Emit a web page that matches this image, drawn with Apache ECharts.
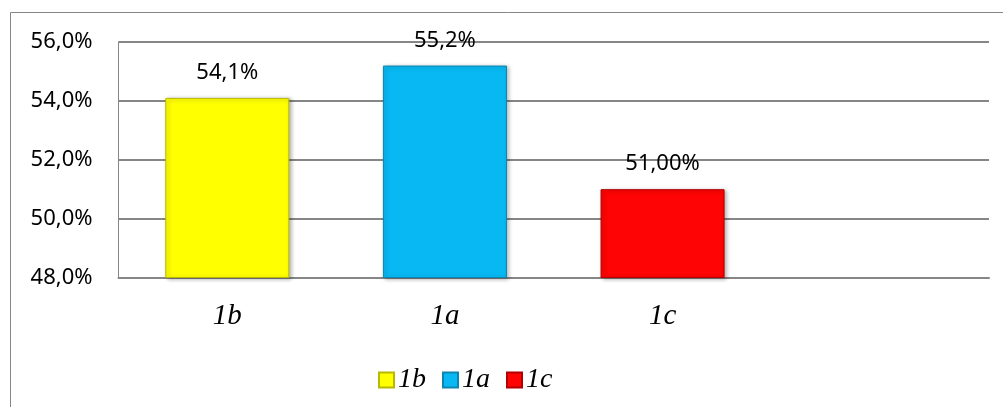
<!DOCTYPE html>
<html>
<head>
<meta charset="utf-8">
<script src="https://cdn.jsdelivr.net/npm/echarts@6/dist/echarts.min.js"></script>
<style>
  html, body { margin: 0; padding: 0; background: #fff; }
  #chart { width: 1003px; height: 407px; }
</style>
</head>
<body>
<div id="chart"></div>
<script>
// data
const categories = ['1b', '1a', '1c', ''];
const seriesNames = ['1b', '1a', '1c'];
const values = [54.1, 55.2, 51.0];
const labelTexts = ['54,1%', '55,2%', '51,00%'];
const yTicks = { min: 48, max: 56, step: 2 };

const fills = ['#FFFF00', '#08B8F2', '#FE0404'];
const edges = ['#B8B800', '#0A86B0', '#B00000'];

const chart = echarts.init(document.getElementById('chart'));

// one series per category so the legend gets its own coloured entry
const series = seriesNames.map(function (name, i) {
    const data = categories.map(function (c, j) { return j === i ? values[i] : '-'; });
    return {
        name: name,
        type: 'bar',
        data: data,
        barWidth: '57%',
        barGap: '-100%',
        itemStyle: {
            color: fills[i],
            borderColor: edges[i],
            borderWidth: 1,
            shadowColor: 'rgba(0,0,0,0.3)',
            shadowBlur: 4,
            shadowOffsetX: 2,
            shadowOffsetY: 1
        },
        label: {
            show: true,
            position: 'top',
            distance: 14,
            fontFamily: 'Noto Sans',
            fontSize: 22,
            color: '#000',
            formatter: function () { return labelTexts[i]; }
        }
    };
});

const option = {
    animation: false,
    graphic: [{
        type: 'rect',
        shape: { x: 10.5, y: 12.5, width: 1200, height: 600 },
        style: { fill: 'none', stroke: '#868686', lineWidth: 1 },
        silent: true
    }],
    legend: {
        data: seriesNames,
        left: 373,
        top: 361,
        icon: 'rect',
        itemWidth: 15,
        itemHeight: 15,
        itemGap: 16,
        textStyle: {
            fontFamily: 'Liberation Serif',
            fontStyle: 'italic',
            fontSize: 28,
            color: '#000',
            padding: [0, 0, 0, -1]
        }
    },
    grid: {
        left: 118.5,
        top: 42,
        right: 14,
        bottom: 129.5,
        containLabel: false
    },
    xAxis: {
        type: 'category',
        data: categories,
        axisLine: { show: true, lineStyle: { color: '#868686', width: 2 } },
        axisTick: { show: false },
        axisLabel: {
            margin: 24,
            fontFamily: 'Liberation Serif',
            fontStyle: 'italic',
            fontSize: 29,
            color: '#000'
        }
    },
    yAxis: {
        type: 'value',
        min: yTicks.min,
        max: yTicks.max,
        interval: yTicks.step,
        axisLine: { show: true, lineStyle: { color: '#868686', width: 1 } },
        axisTick: { show: false },
        splitLine: { lineStyle: { color: '#868686', width: 2 } },
        axisLabel: {
            margin: 26,
            fontFamily: 'Noto Sans',
            fontSize: 22,
            color: '#000',
            formatter: function (v) { return v.toFixed(1).replace('.', ',') + '%'; }
        }
    },
    series: series
};

chart.setOption(option);
</script>
</body>
</html>
